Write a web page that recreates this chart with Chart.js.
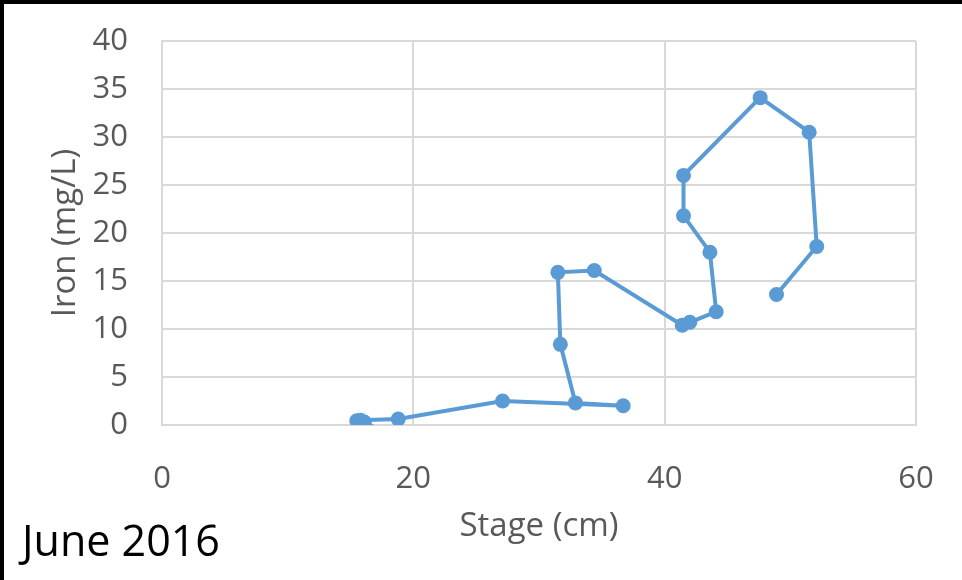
<!DOCTYPE html>
<html>
<head>
<meta charset="utf-8">
<script src="https://cdn.jsdelivr.net/npm/chart.js@4"></script>
<style>
  body { margin: 0; background: #fff; }
  #wrap { position: relative; width: 962px; height: 580px; overflow: hidden; }
  .edge { position: absolute; background: #000; }
</style>
</head>
<body>
<div id="wrap">
  <canvas id="grafico" width="962" height="580"></canvas>
  <div class="edge" style="left:0;top:0;width:962px;height:4px"></div>
  <div class="edge" style="left:0;top:0;width:4px;height:580px"></div>
</div>
<script>
// stage vs iron, in sampling order
const stageCm = [15.5, 16.1, 15.8, 18.8, 27.1, 36.7, 32.9, 31.7, 31.5, 34.4, 41.4, 42.0, 44.1, 43.6, 41.5, 41.5, 47.6, 51.5, 52.1, 48.9];
const ironMgL = [0.45, 0.3, 0.5, 0.63, 2.5, 2.0, 2.3, 8.4, 15.9, 16.1, 10.4, 10.7, 11.8, 18.0, 21.8, 26.0, 34.1, 30.5, 18.6, 13.6];

const xTicks = [0, 20, 40, 60];
const yTicks = [0, 5, 10, 15, 20, 25, 30, 35, 40];

const azul = '#5b9bd5';
const cinza = '#595959';
const grade = '#d9d9d9';
const fonte = "'Open Sans', 'Noto Sans', sans-serif";

const pontos = stageCm.map((x, i) => ({ x: x, y: ironMgL[i] }));

// month label under the chart
const rotuloMes = {
  id: 'rotuloMes',
  afterDraw(chart) {
    const ctx = chart.ctx;
    ctx.save();
    ctx.fillStyle = '#000';
    ctx.font = '43px ' + fonte;
    ctx.textAlign = 'left';
    ctx.textBaseline = 'alphabetic';
    ctx.fillText('June 2016', 22, 556);
    ctx.restore();
  }
};

const ctx = document.getElementById('grafico').getContext('2d');
new Chart(ctx, {
  type: 'scatter',
  data: {
    datasets: [{
      data: pontos,
      showLine: true,
      borderColor: azul,
      backgroundColor: azul,
      borderWidth: 4,
      pointRadius: 7.5,
      pointBorderWidth: 0,
      pointHoverRadius: 7.5
    }]
  },
  options: {
    responsive: false,
    animation: false,
    layout: { padding: { top: 41, right: 46, left: 0, bottom: 0 } },
    plugins: {
      legend: { display: false },
      tooltip: { enabled: false }
    },
    scales: {
      x: {
        type: 'linear',
        min: 0,
        max: 60,
        afterBuildTicks: s => { s.ticks = xTicks.map(v => ({ value: v })); },
        afterFit: s => { s.height = 155; s.paddingLeft = 0; s.paddingRight = 0; },
        grid: { color: grade, lineWidth: 2, drawTicks: false },
        border: { color: grade, width: 2 },
        ticks: { color: cinza, font: { family: fonte, size: 31 }, padding: 36, maxRotation: 0 },
        title: {
          display: true,
          text: 'Stage (cm)',
          color: cinza,
          font: { family: fonte, size: 33 },
          padding: { bottom: 34 }
        }
      },
      y: {
        type: 'linear',
        min: 0,
        max: 40,
        afterBuildTicks: s => { s.ticks = yTicks.map(v => ({ value: v })); },
        afterFit: s => { s.width = 162; s.paddingTop = 0; s.paddingBottom = 0; },
        grid: { color: grade, lineWidth: 2, drawTicks: false },
        border: { color: grade, width: 2 },
        ticks: { color: cinza, font: { family: fonte, size: 31 }, padding: 34 },
        title: {
          display: true,
          text: 'Iron (mg/L)',
          color: cinza,
          font: { family: fonte, size: 33 },
          padding: { top: 46 }
        }
      }
    }
  },
  plugins: [rotuloMes]
});
</script>
</body>
</html>
